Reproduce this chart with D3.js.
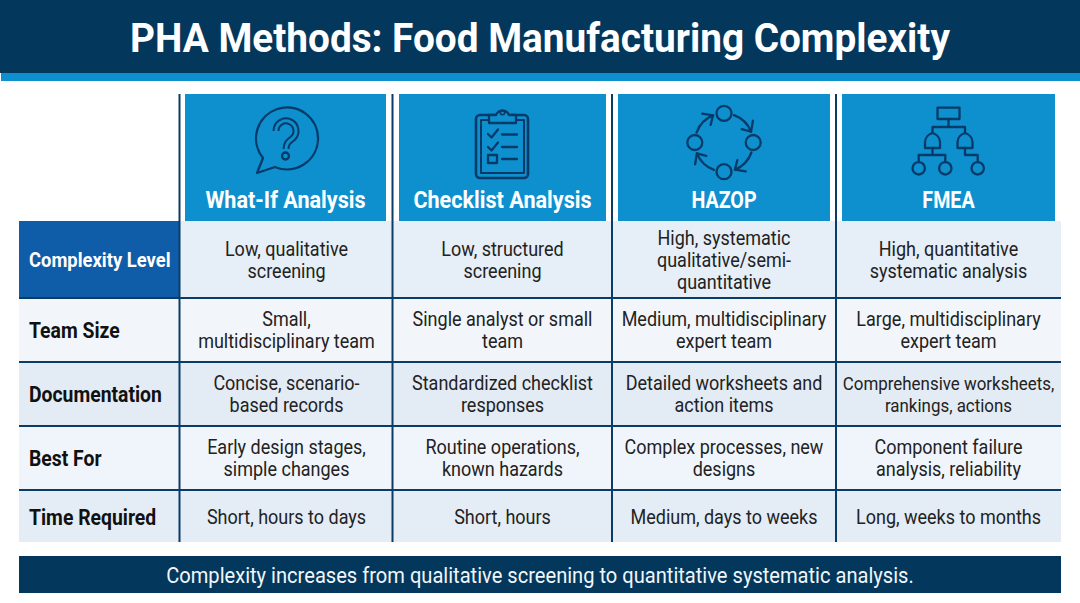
<!DOCTYPE html>
<html>
<head>
<meta charset="utf-8">
<script src="https://cdn.jsdelivr.net/npm/d3@7"></script>
<style>
html,body{margin:0;padding:0;background:#fff;}
svg{display:block;}
text{font-family:Roboto,"Noto Sans",sans-serif;}
</style>
</head>
<body>
<div id="canvas"></div>
<script>
var title = "PHA Methods: Food Manufacturing Complexity";
var footer = "Complexity increases from qualitative screening to quantitative systematic analysis.";
var methods = ["What-If Analysis","Checklist Analysis","HAZOP","FMEA"];
var rowNames = ["Complexity Level","Team Size","Documentation","Best For","Time Required"];
var whatIf = ["Low, qualitative|screening","Small,|multidisciplinary team","Concise, scenario-|based records","Early design stages,|simple changes","Short, hours to days"];
var checklist = ["Low, structured|screening","Single analyst or small|team","Standardized checklist|responses","Routine operations,|known hazards","Short, hours"];
var hazop = ["High, systematic|qualitative/semi-|quantitative","Medium, multidisciplinary|expert team","Detailed worksheets and|action items","Complex processes, new|designs","Medium, days to weeks"];
var fmea = ["High, quantitative|systematic analysis","Large, multidisciplinary|expert team","Comprehensive worksheets,|rankings, actions","Component failure|analysis, reliability","Long, weeks to months"];
var columns = [whatIf,checklist,hazop,fmea];

var NAVY = "#03385c", BLUE = "#0e90cf", INK = "#063a68", LINE = "#0b3c66";
var rowFills = ["#e6eef7","#f2f6fb","#e3ebf5","#f0f5fb","#e4ecf6"];

var width = 1080, height = 603;
var svg = d3.select("#canvas").append("svg").attr("width",width).attr("height",height);

// layout, the columns and rows of the picture are not evenly spaced
var xLeft = d3.scaleOrdinal(methods,[180,393,612,836]);
var xRight = d3.scaleOrdinal(methods,[393,612,836,1061]);
var headLeft = d3.scaleOrdinal(methods,[185,399,618,842]);
var headRight = d3.scaleOrdinal(methods,[386,606,830,1055]);
var yTop = d3.scaleOrdinal(rowNames,[221,298,362,426,490]);
var yBottom = d3.scaleOrdinal(rowNames,[298,362,426,490,542]);

// no Barlow here, so Roboto gets squeezed a bit
var label = function(parent,str,x,y,size,weight,fill,anchor,squeeze){
	var t = parent.append("text")
		.text(str)
		.attr("transform","translate("+x+","+y+") scale("+squeeze+",1)")
		.attr("text-anchor",anchor)
		.attr("dy","0.35em")
		.style("font-size",size+"px")
		.style("font-weight",weight)
		.attr("fill",fill);
	return t;
};

// title band
svg.append("rect").attr("x",0).attr("y",0).attr("width",width).attr("height",73).attr("fill",NAVY);
svg.append("rect").attr("x",1).attr("y",73).attr("width",width-1).attr("height",8).attr("fill",BLUE);
label(svg,title,540,38,41,700,"#fff","middle",0.945);

// rows
rowNames.forEach(function(r,i){
	svg.append("rect").attr("x",19).attr("y",yTop(r)).attr("width",1042).attr("height",yBottom(r)-yTop(r)).attr("fill",rowFills[i]);
});
svg.append("rect").attr("x",19).attr("y",yTop(rowNames[0])).attr("width",160).attr("height",yBottom(rowNames[0])-yTop(rowNames[0])).attr("fill","#0f5ca8");

// header cells
methods.forEach(function(m){
	svg.append("rect").attr("x",headLeft(m)).attr("y",94).attr("width",headRight(m)-headLeft(m)).attr("height",127).attr("fill",BLUE);
	var caps = m==m.toUpperCase();
	label(svg,m,(headLeft(m)+headRight(m))/2,200,24,700,"#fff","middle",caps?0.82:0.9);
});

// grid
rowNames.slice(1).forEach(function(r){
	svg.append("line").attr("x1",19).attr("x2",1061).attr("y1",yTop(r)).attr("y2",yTop(r)).attr("stroke",LINE).attr("stroke-width",2);
});
[179.5,392.5,612,836].forEach(function(x){
	svg.append("line").attr("x1",x).attr("x2",x).attr("y1",94).attr("y2",542).attr("stroke",LINE).attr("stroke-width",2);
});

// row labels
rowNames.forEach(function(r,i){
	var mid = (yTop(r)+yBottom(r))/2;
	if(i==4) mid+=1;
	label(svg,r,29,mid,i==0?20:22,700,i==0?"#fff":"#111","start",i==0?0.92:0.88);
});

// cell text
columns.forEach(function(col,c){
	var m = methods[c];
	var cx = (xLeft(m)+xRight(m))/2;
	col.forEach(function(cell,i){
		var r = rowNames[i];
		var lines = cell.split("|");
		var mid = (yTop(r)+yBottom(r))/2;
		if(i==4) mid+=1;
		lines.forEach(function(l,k){
			var small = l.indexOf("Comprehensive")==0 || l.indexOf("rankings")==0;
			label(svg,l,cx,mid+(k-(lines.length-1)/2)*22,small?18.7:20,400,"#222","middle",small?0.905:0.9);
		});
	});
});

// footer
svg.append("rect").attr("x",19).attr("y",556).attr("width",1042).attr("height",37).attr("fill",NAVY);
label(svg,footer,540,575,22,400,"#f2f6fb","middle",0.914);

// icons
var icons = svg.append("g").attr("fill","none").attr("stroke",INK).attr("stroke-width",2.3).attr("stroke-linecap","round").attr("stroke-linejoin","round");

// what-if bubble
var qmark = "M276,131 a10,10 0 1 1 16.5,7.5 c-4,3 -6.5,5 -6.5,10.5";
icons.append("path").attr("d","M263,158 A31,31 0 1 1 275,167 L257,173 Z");
icons.append("path").attr("d",qmark).attr("stroke-width",7).attr("stroke-linecap","butt");
icons.append("path").attr("d",qmark).attr("stroke",BLUE).attr("stroke-width",3).attr("stroke-linecap","butt");
icons.append("circle").attr("cx",285.5).attr("cy",156).attr("r",3.5);

// checklist
icons.append("rect").attr("x",476).attr("y",115).attr("width",52).attr("height",63).attr("rx",4).attr("stroke-width",2.6);
icons.append("rect").attr("x",481).attr("y",120).attr("width",43).attr("height",53).attr("stroke-width",2);
icons.append("path").attr("d","M489,123 V115 H496 A7,7 0 0 1 509,115 H516 V123 Z").attr("fill",BLUE);
icons.append("circle").attr("cx",502.5).attr("cy",112.5).attr("r",2.2).attr("stroke-width",1.6);
icons.append("path").attr("d","M488,134 l3.5,3.5 l6.5,-8 M488,147 l3.5,3.5 l6.5,-8");
icons.append("rect").attr("x",488).attr("y",155).attr("width",9).attr("height",8);
icons.append("path").attr("d","M502,134.5 H517 M502,147 H517 M502,159 H517");

// hazop loop
var hx = 724, hy = 142.5, hr = 29.2;
var polar = function(a,r){
	var t = (a-90)*Math.PI/180;
	return [hx+r*Math.cos(t),hy+r*Math.sin(t)];
};
[0,90,180,270].forEach(function(a){
	var p = polar(a,hr);
	icons.append("circle").attr("cx",p[0]).attr("cy",p[1]).attr("r",7.5);
	var s = polar(a+20,hr), e = polar(a+68,hr);
	icons.append("path").attr("d","M"+s+" A"+hr+","+hr+" 0 0 1 "+e);
	var h1 = polar(a+53,hr+7), h2 = polar(a+53,hr-7);
	icons.append("path").attr("d","M"+h1+" L"+e+" L"+h2);
});

// fmea tree
icons.append("rect").attr("x",937.5).attr("y",107.7).attr("width",22).attr("height",11.3);
icons.append("path").attr("d","M948.5,119 V127 M932.5,133 V127 H965 V133");
[932.5,965].forEach(function(x){
	icons.append("path").attr("d","M"+(x-7.5)+",148 V142 C"+(x-7.5)+",137 "+(x-3)+",134 "+x+",133 C"+(x+3)+",134 "+(x+7.5)+",137 "+(x+7.5)+",142 V148 Z");
});
icons.append("path").attr("d","M932.5,148 V155 M918.7,162 V155 H945.3 V162 M965,148 V155 H977.7 V162");
[918.7,945.3,977.7].forEach(function(x){
	icons.append("circle").attr("cx",x).attr("cy",168.3).attr("r",6.2);
});
</script>
</body>
</html>
